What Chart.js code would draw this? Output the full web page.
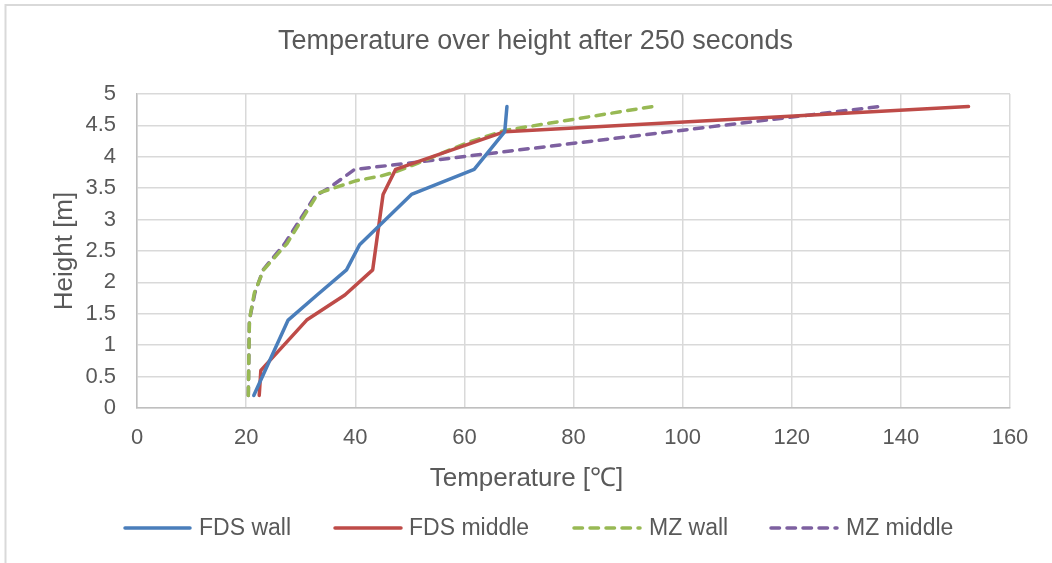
<!DOCTYPE html>
<html>
<head>
<meta charset="utf-8">
<script src="https://cdn.jsdelivr.net/npm/chart.js@4.4.1/dist/chart.umd.min.js"></script>
<style>
html,body{margin:0;padding:0;background:#fff;}
#wrap{width:1052px;height:563px;position:relative;}
</style>
</head>
<body>
<div id="wrap"><canvas id="c" width="1052" height="563"></canvas></div>
<script>
// ---- data ----
const titleText = "Temperature over height after 250 seconds";
const xTitle = "Temperature [℃]";
const yTitle = "Height [m]";
const seriesNames = ["FDS wall", "FDS middle", "MZ wall", "MZ middle"];

const fdsWallT = [21.4, 27.7, 33.0, 38.4, 40.8, 50.3, 61.8, 67.4, 67.8];
const fdsWallH = [0.2, 1.4, 1.8, 2.2, 2.6, 3.4, 3.8, 4.4, 4.8];

const fdsMidT = [22.4, 22.7, 31.1, 38.1, 43.2, 45.1, 47.4, 67.4, 152.4];
const fdsMidH = [0.2, 0.6, 1.4, 1.8, 2.2, 3.4, 3.8, 4.4, 4.8];

const mzWallT = [20.4, 20.6, 21.5, 23.2, 27.5, 33.2, 40.2, 44.5, 47.4, 51.5, 60.4, 67.4, 94.5];
const mzWallH = [0.2, 1.4, 1.83, 2.2, 2.62, 3.42, 3.62, 3.69, 3.76, 3.9, 4.22, 4.42, 4.8];

const mzMidT = [20.4, 20.6, 21.6, 23.1, 27.1, 32.6, 35.3, 39.9, 50.0, 136.0];
const mzMidH = [0.2, 1.4, 1.83, 2.2, 2.62, 3.37, 3.51, 3.8, 3.9, 4.8];

const xTicks = [0, 20, 40, 60, 80, 100, 120, 140, 160];
const yTicks = [0, 0.5, 1, 1.5, 2, 2.5, 3, 3.5, 4, 4.5, 5];

// ---- styles ----
const colors = ["#4A7EBB", "#BE4B48", "#98B954", "#7D60A0"];
const dashes = [[], [], [8.5, 7.5], [8.5, 7.5]];
const FONT = "'Liberation Sans', Arial, sans-serif";
const TXT = "#595959";

function pts(T, H) { return T.map((t, i) => ({x: t, y: H[i]})); }
const seriesT = [fdsWallT, fdsMidT, mzWallT, mzMidT];
const seriesH = [fdsWallH, fdsMidH, mzWallH, mzMidH];

const datasets = seriesNames.map((n, i) => ({
  label: n,
  data: pts(seriesT[i], seriesH[i]),
  showLine: true,
  borderColor: colors[i],
  backgroundColor: colors[i],
  borderWidth: 3.5,
  borderDash: dashes[i],
  pointRadius: 0,
  pointHoverRadius: 0,
  tension: 0,
  fill: false,
  borderCapStyle: 'round',
  borderJoinStyle: 'round'
}));

const legendItems = [
  {x1: 125, x2: 190, tx: 199},
  {x1: 335, x2: 401, tx: 409},
  {x1: 574, x2: 640, tx: 649},
  {x1: 771, x2: 837, tx: 846}
];

const extras = {
  id: 'extras',
  beforeDraw(chart) {
    const ctx = chart.ctx;
    ctx.save();
    ctx.fillStyle = '#fff';
    ctx.fillRect(0, 0, chart.width, chart.height);
    ctx.strokeStyle = '#d9d9d9';
    ctx.lineWidth = 2;
    ctx.strokeRect(5.5, 5, 1100, 600);
    ctx.restore();
  },
  afterDraw(chart) {
    const ctx = chart.ctx;
    ctx.save();
    // chart title
    ctx.fillStyle = TXT;
    ctx.textAlign = 'center';
    ctx.textBaseline = 'middle';
    ctx.font = "27px " + FONT;
    ctx.fillText(titleText, 535.5, 42);
    // x axis title
    ctx.font = "26px " + FONT;
    ctx.fillText(xTitle, 526.5, 479);
    // legend
    const y = 528;
    datasets.forEach((d, i) => {
      const L = legendItems[i];
      ctx.beginPath();
      ctx.strokeStyle = d.borderColor;
      ctx.lineWidth = 3.5;
      ctx.setLineDash(d.borderDash);
      ctx.lineCap = 'round';
      ctx.moveTo(L.x1, y);
      ctx.lineTo(L.x2, y);
      ctx.stroke();
      ctx.setLineDash([]);
      ctx.fillStyle = TXT;
      ctx.font = "23px " + FONT;
      ctx.textBaseline = 'middle';
      ctx.textAlign = 'left';
      ctx.fillText(d.label, L.tx, y + 1);
    });
    ctx.restore();
  }
};

new Chart(document.getElementById('c'), {
  type: 'scatter',
  data: {datasets},
  options: {
    responsive: false,
    animation: false,
    devicePixelRatio: 1,
    layout: {padding: {left: 0, right: 42, top: 94, bottom: 0}},
    plugins: {
      legend: {display: false},
      tooltip: {enabled: false},
      title: {display: false}
    },
    scales: {
      x: {
        type: 'linear',
        min: 0, max: 160,
        afterFit: s => { s.height = 155; },
        afterBuildTicks: s => { s.ticks = xTicks.map(v => ({value: v})); },
        grid: {color: '#d9d9d9', lineWidth: 1.5, drawTicks: false},
        border: {color: '#bfbfbf', width: 1.5},
        ticks: {color: TXT, padding: 17, font: {family: FONT, size: 22}, maxRotation: 0,
                callback: v => String(v)}
      },
      y: {
        type: 'linear',
        min: 0, max: 5,
        afterFit: s => { s.width = 137; },
        afterBuildTicks: s => { s.ticks = yTicks.map(v => ({value: v})); },
        grid: {color: '#d9d9d9', lineWidth: 1.5, drawTicks: false},
        border: {color: '#bfbfbf', width: 1.5},
        ticks: {color: TXT, padding: 21, font: {family: FONT, size: 22},
                callback: v => String(v)},
        title: {display: true, text: yTitle, color: TXT,
                font: {family: FONT, size: 26, lineHeight: 1.2}, padding: {top: 49, bottom: 0}}
      }
    }
  },
  plugins: [extras]
});
</script>
</body>
</html>
